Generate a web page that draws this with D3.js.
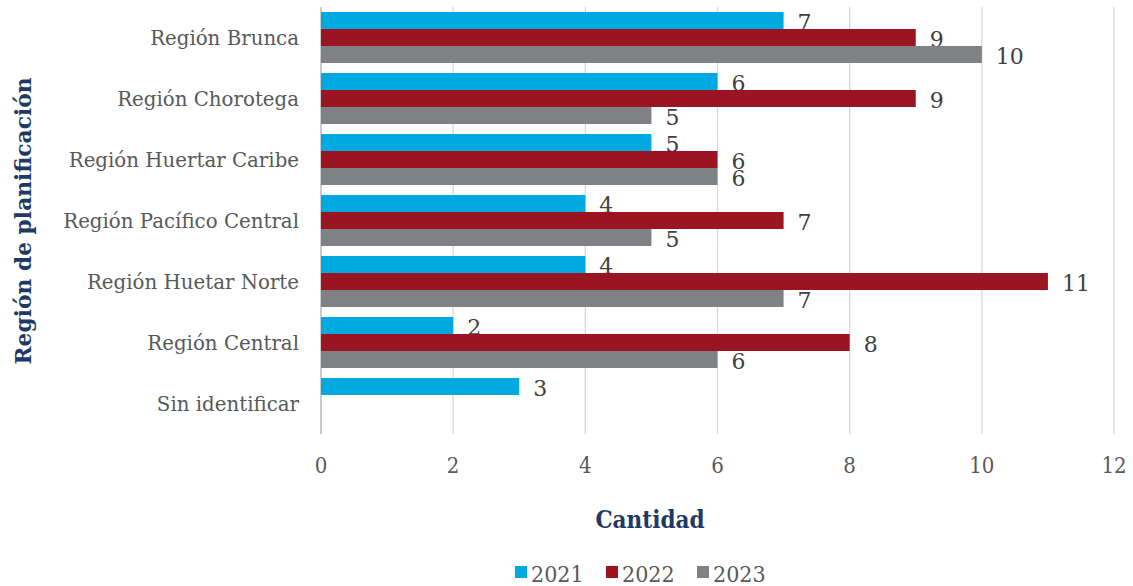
<!DOCTYPE html>
<html><head><meta charset="utf-8">
<script src="https://cdn.jsdelivr.net/npm/d3@7"></script>
<style>body{margin:0;background:#fff}</style>
</head><body><svg id="c" width="1133" height="586"></svg>
<script>
const categories = ["Región Brunca","Región Chorotega","Región Huertar Caribe","Región Pacífico Central","Región Huetar Norte","Región Central","Sin identificar"];
const series = ["2021","2022","2023"];
const v2021 = [7,6,5,4,4,2,3];
const v2022 = [9,9,6,7,11,8,null];
const v2023 = [10,5,6,5,7,6,null];
const xTicks = [0,2,4,6,8,10,12];
const colors = ["#00A9E0","#9B1422","#808184"];
const values = [v2021,v2022,v2023];

const svg = d3.select("#c");
const serif = "'DejaVu Serif', serif";
const cond = "'DejaVu Serif Condensed', 'DejaVu Serif', serif";
const x = d3.scaleLinear().domain([0,12]).range([321,1114]);
const y = d3.scaleBand().domain(categories).range([7,434]).paddingInner(10/61).paddingOuter(5/61);
const ys = d3.scaleBand().domain(series).range([0,y.bandwidth()]);

// gridlines
svg.append("g").selectAll("line").data(xTicks).join("line")
  .attr("x1",d=>x(d)).attr("x2",d=>x(d)).attr("y1",7).attr("y2",434)
  .attr("stroke","#d9d9d9").attr("stroke-width",1.3);
svg.append("line").attr("x1",x(0)).attr("x2",x(0)).attr("y1",7).attr("y2",434).attr("stroke","#bfbfbf").attr("stroke-width",1.3);

// bars
series.forEach((s,si)=>{
  const data = categories.map((c,i)=>({c,v:values[si][i]})).filter(d=>d.v!=null);
  const g = svg.append("g");
  g.selectAll("rect").data(data).join("rect")
    .attr("x",x(0)).attr("y",d=>y(d.c)+ys(s)).attr("width",d=>x(d.v)-x(0)).attr("height",ys.bandwidth())
    .attr("fill",colors[si]);
  g.selectAll("text").data(data).join("text")
    .attr("x",d=>x(d.v)+14).attr("y",d=>y(d.c)+ys(s)+ys.bandwidth()/2+9)
    .attr("font-family",serif).attr("font-size",22).attr("fill","#404040")
    .text(d=>d.v);
});

// category labels
svg.append("g").selectAll("text").data(categories).join("text")
  .attr("x",299).attr("y",d=>y(d)+y.bandwidth()/2+7)
  .attr("text-anchor","end").attr("font-family",serif).attr("font-size",19.8).attr("fill","#595959")
  .text(d=>d);

// x tick labels
svg.append("g").selectAll("text").data(xTicks).join("text")
  .attr("x",d=>x(d)).attr("y",473).attr("text-anchor","middle")
  .attr("font-family",cond).attr("font-size",22).attr("fill","#595959").text(d=>d);

// axis titles
svg.append("text").attr("x",650).attr("y",528).attr("text-anchor","middle")
  .attr("font-family",cond).attr("font-weight","bold").attr("font-size",24).attr("fill","#1F3864").text("Cantidad");
svg.append("text").attr("transform","translate(31,221) rotate(-90)").attr("text-anchor","middle")
  .attr("font-family",serif).attr("font-weight","bold").attr("font-size",21.8).attr("fill","#1F3864").text("Región de planificación");

// legend
const lx = [515,606,697];
const lg = svg.append("g").selectAll("g").data(series).join("g").attr("transform",(d,i)=>`translate(${lx[i]},0)`);
lg.append("rect").attr("x",0).attr("y",566).attr("width",12).attr("height",12).attr("fill",(d,i)=>colors[i]);
lg.append("text").attr("x",16).attr("y",582).attr("font-family",cond).attr("font-size",23).attr("fill","#595959").text(d=>d);
</script></body></html>
